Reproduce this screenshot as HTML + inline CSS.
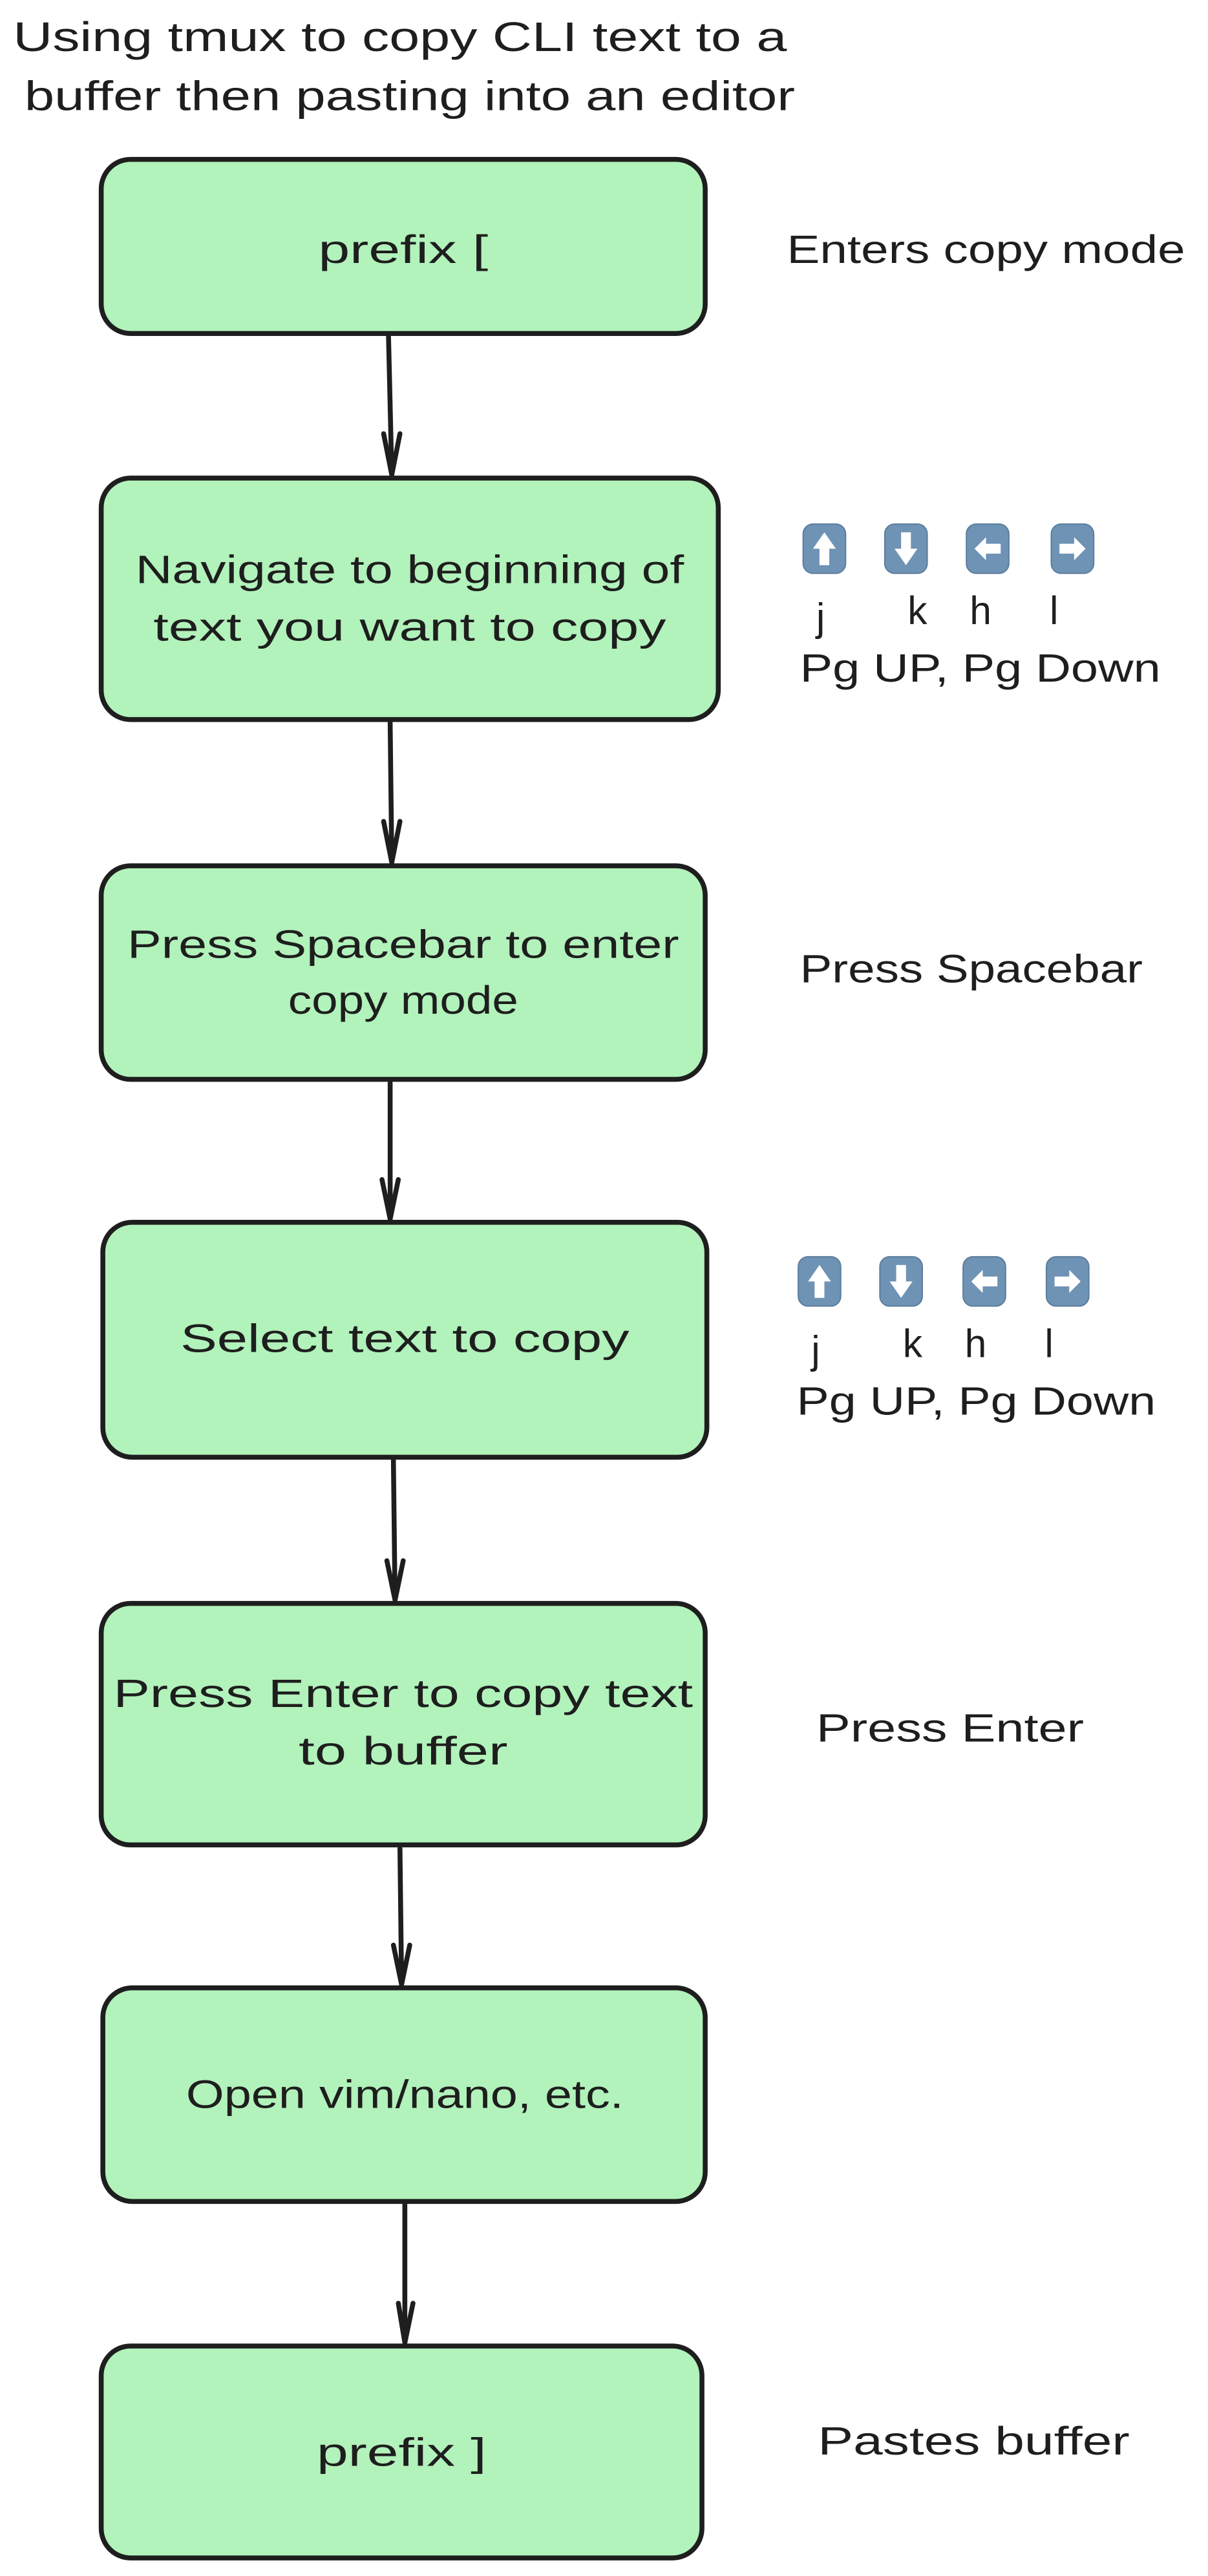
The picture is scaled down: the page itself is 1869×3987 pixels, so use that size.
<!DOCTYPE html>
<html><head><meta charset="utf-8"><style>
html,body{margin:0;padding:0;background:#fff;}
svg{display:block;}
text{font-family:"Liberation Sans",sans-serif;fill:#1e1e1e;}
</style></head><body>
<svg width="1869" height="3987" viewBox="0 0 740 1568" preserveAspectRatio="none" xmlns="http://www.w3.org/2000/svg">
<defs>
<g id="ic"><rect x="-13" y="-15" width="26" height="30" rx="6" fill="#6f93b5" stroke="#5c7d9c" stroke-width="0.8"/></g>
</defs>
<text x="8" y="31" font-size="25" textLength="474" lengthAdjust="spacingAndGlyphs">Using tmux to copy CLI text to a</text>
<text x="15" y="67" font-size="25" textLength="472" lengthAdjust="spacingAndGlyphs">buffer then pasting into an editor</text>

<g fill="#b2f2bb" stroke="#1e1e1e" stroke-width="3">
<rect x="62" y="97" width="370" height="106" rx="18"/>
<rect x="62" y="291" width="378" height="147" rx="18"/>
<rect x="62" y="527" width="370" height="130" rx="18"/>
<rect x="63" y="744" width="370" height="143" rx="18"/>
<rect x="62" y="976" width="370" height="147" rx="18"/>
<rect x="63" y="1210" width="369" height="130" rx="18"/>
<rect x="62" y="1428" width="368" height="129" rx="18"/>
</g>

<g stroke="#1e1e1e" stroke-width="3" fill="none" stroke-linecap="round">
<path d="M238 205 L240 289 M235 264 L240 289 M245 264 L240 289"/>
<path d="M239 440 L240 525 M235 500 L240 525 M245 500 L240 525"/>
<path d="M239 659 L239 742 M234 718 L239 742 M244 718 L239 742"/>
<path d="M241 889 L242 974 M237 950 L242 974 M247 950 L242 974"/>
<path d="M245 1125 L246 1208 M241 1184 L246 1208 M251 1184 L246 1208"/>
<path d="M248 1342 L248 1426 M244 1402 L248 1426 M253 1402 L248 1426"/>
</g>

<g font-size="24" text-anchor="middle">
<text x="247" y="160" textLength="104" lengthAdjust="spacingAndGlyphs">prefix [</text>
<text x="251" y="355" textLength="336" lengthAdjust="spacingAndGlyphs">Navigate to beginning of</text>
<text x="251" y="390" textLength="314" lengthAdjust="spacingAndGlyphs">text you want to copy</text>
<text x="247" y="583" textLength="338" lengthAdjust="spacingAndGlyphs">Press Spacebar to enter</text>
<text x="247" y="617" textLength="141" lengthAdjust="spacingAndGlyphs">copy mode</text>
<text x="248" y="823" textLength="275" lengthAdjust="spacingAndGlyphs">Select text to copy</text>
<text x="247" y="1039" textLength="355" lengthAdjust="spacingAndGlyphs">Press Enter to copy text</text>
<text x="247" y="1074" textLength="128" lengthAdjust="spacingAndGlyphs">to buffer</text>
<text x="248" y="1283" textLength="268" lengthAdjust="spacingAndGlyphs">Open vim/nano, etc.</text>
<text x="246" y="1501" textLength="104" lengthAdjust="spacingAndGlyphs">prefix ]</text>
</g>

<g font-size="24">
<text x="482" y="160" textLength="244" lengthAdjust="spacingAndGlyphs">Enters copy mode</text>
<text x="490" y="598" textLength="210" lengthAdjust="spacingAndGlyphs">Press Spacebar</text>
<text x="500" y="1060" textLength="164" lengthAdjust="spacingAndGlyphs">Press Enter</text>
<text x="501" y="1494" textLength="191" lengthAdjust="spacingAndGlyphs">Pastes buffer</text>
<text x="500" y="384">j</text><text x="556" y="380">k</text><text x="594" y="380">h</text><text x="643" y="380">l</text>
<text x="490" y="415" textLength="221" lengthAdjust="spacingAndGlyphs">Pg UP, Pg Down</text>
<text x="497" y="830">j</text><text x="553" y="826">k</text><text x="591" y="826">h</text><text x="640" y="826">l</text>
<text x="488" y="861" textLength="220" lengthAdjust="spacingAndGlyphs">Pg UP, Pg Down</text>
</g>

<g transform="translate(505,334)"><use href="#ic"/><path d="M0 -10 L7 0 L3 0 L3 10 L-3 10 L-3 0 L-7 0 Z" fill="#fff"/></g>
<g transform="translate(555,334)"><use href="#ic"/><path d="M0 10 L7 0 L3 0 L3 -10 L-3 -10 L-3 0 L-7 0 Z" fill="#fff"/></g>
<g transform="translate(605,334)"><use href="#ic"/><path d="M-8 0 L-1 -7 L-1 -3 L8 -3 L8 3 L-1 3 L-1 7 Z" fill="#fff"/></g>
<g transform="translate(657,334)"><use href="#ic"/><path d="M8 0 L1 -7 L1 -3 L-8 -3 L-8 3 L1 3 L1 7 Z" fill="#fff"/></g>
<g transform="translate(502,780)"><use href="#ic"/><path d="M0 -10 L7 0 L3 0 L3 10 L-3 10 L-3 0 L-7 0 Z" fill="#fff"/></g>
<g transform="translate(552,780)"><use href="#ic"/><path d="M0 10 L7 0 L3 0 L3 -10 L-3 -10 L-3 0 L-7 0 Z" fill="#fff"/></g>
<g transform="translate(603,780)"><use href="#ic"/><path d="M-8 0 L-1 -7 L-1 -3 L8 -3 L8 3 L-1 3 L-1 7 Z" fill="#fff"/></g>
<g transform="translate(654,780)"><use href="#ic"/><path d="M8 0 L1 -7 L1 -3 L-8 -3 L-8 3 L1 3 L1 7 Z" fill="#fff"/></g>
</svg>
</body></html>
